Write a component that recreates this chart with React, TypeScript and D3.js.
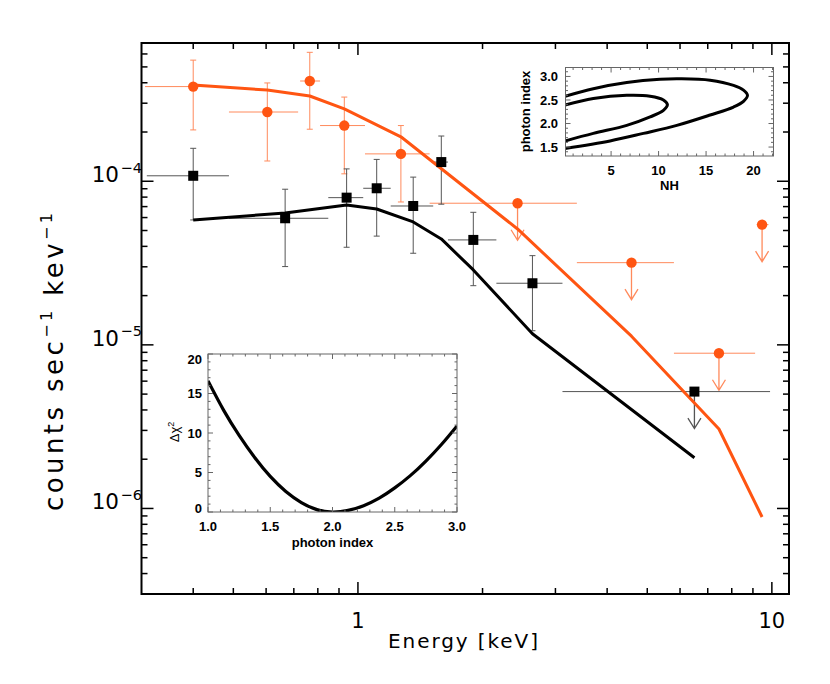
import React from 'react';
import * as d3 from 'd3';

// ---------- main spectrum data ----------
const orangeE = [0.4, 0.604, 0.765, 0.927, 1.27, 2.43, 4.58, 7.45, 9.47];
const orangeRate = [3.79e-4, 2.65e-4, 4.10e-4, 2.19e-4, 1.47e-4, 7.34e-5, 3.18e-5, 8.89e-6, 5.43e-5];
const orangeElo = [0.306, 0.488, 0.725, 0.81, 1.04, 1.49, 3.38, 5.80, 9.19];
const orangeEhi = [0.488, 0.717, 0.81, 1.04, 1.49, 3.38, 5.80, 9.11, 9.81];
const orangeRlo = [2.06e-4, 1.33e-4, 2.08e-4, 1.11e-4, 7.47e-5, null, null, null, null];
const orangeRhi = [5.5e-4, 3.99e-4, 6.14e-4, 3.27e-4, 2.19e-4, null, null, null, null];
const orangeUL = [false, false, false, false, false, true, true, true, true];
const orangeModel = [3.88e-4, 3.61e-4, 3.32e-4, 2.77e-4, 1.87e-4, 5.11e-5, 1.13e-5, 3.06e-6, 8.87e-7];

const blackE = [0.4, 0.667, 0.939, 1.11, 1.36, 1.59, 1.90, 2.64, 6.50];
const blackRate = [1.08e-4, 5.94e-5, 7.94e-5, 9.06e-5, 7.06e-5, 1.31e-4, 4.38e-5, 2.38e-5, 5.18e-6];
const blackElo = [0.309, 0.488, 0.848, 1.03, 1.20, 1.52, 1.65, 2.16, 3.12];
const blackEhi = [0.488, 0.848, 1.03, 1.20, 1.52, 1.65, 2.16, 3.12, 9.90];
const blackRlo = [5.80e-5, 3.01e-5, 3.95e-5, 4.62e-5, 3.63e-5, 7.24e-5, 2.30e-5, 1.22e-5, null];
const blackRhi = [1.59e-4, 8.94e-5, 1.19e-4, 1.36e-4, 1.06e-4, 1.89e-4, 6.46e-5, 3.51e-5, null];
const blackUL = [false, false, false, false, false, false, false, false, true];
const blackModel = [5.80e-5, 6.40e-5, 7.16e-5, 6.77e-5, 5.64e-5, 4.44e-5, 2.87e-5, 1.17e-5, 2.04e-6];

const xMajor = [1, 10];
const xMajorLabels = ['1', '10'];
const yMajor = [1e-6, 1e-5, 1e-4];
const yMajorExp = ['−6', '−5', '−4'];

// ---------- contour inset data (NH, photon index) ----------
const outerNH = [0.15, 3.13, 6.65, 10.16, 12.27, 15.43, 17.89, 18.94, 19.36, 18.94, 17.89, 15.43, 11.92, 8.40, 4.89, 0.15];
const outerGamma = [2.58, 2.74, 2.87, 2.94, 2.95, 2.92, 2.81, 2.71, 2.60, 2.47, 2.35, 2.18, 1.96, 1.79, 1.63, 1.47];
const innerNH = [0.15, 3.13, 6.65, 9.11, 10.51, 10.93, 10.51, 9.11, 6.65, 3.13, 0.15];
const innerGamma = [2.39, 2.53, 2.60, 2.58, 2.50, 2.40, 2.28, 2.14, 1.96, 1.79, 1.63];
const nhTicks = [5, 10, 15, 20];
const gammaTicks = [1.5, 2.0, 2.5, 3.0];

// ---------- delta chi^2 inset data ----------
const chiGamma = [1.0, 1.125, 1.25, 1.375, 1.5, 1.625, 1.75, 1.875, 2.0, 2.125, 2.25, 2.375, 2.5, 2.625, 2.75, 2.875, 3.0];
const chiDelta = [16.6, 12.9, 9.7, 6.9, 4.5, 2.6, 1.2, 0.3, 0.0, 0.2, 0.8, 1.75, 3.05, 4.6, 6.45, 8.55, 10.9];
const chiXTicks = [1.0, 1.5, 2.0, 2.5, 3.0];
const chiYTicks = [0, 5, 10, 15, 20];

const ORANGE = '#ff5512';
const ORANGE_ERR = '#ff8a5c';
const BLACK_ERR = '#555555';

const MAIN = { left: 141.5, right: 789, top: 43, bottom: 594 };
const INS1 = { left: 565.5, right: 773.5, top: 67.5, bottom: 156 };
const INS2 = { left: 208, right: 457, top: 354, bottom: 512 };

const FONT = '"DejaVu Sans", sans-serif';
const IFONT = '"Liberation Sans", Arial, sans-serif';

function range(a: number, b: number, step: number) {
  const out: number[] = [];
  for (let v = a; v <= b + 1e-9; v += step) out.push(+v.toFixed(6));
  return out;
}

export default function App() {
  const x = d3.scaleLog().domain([0.3, 11]).range([MAIN.left, MAIN.right]);
  const y = d3.scaleLog().domain([3e-7, 7e-4]).range([MAIN.bottom, MAIN.top]);

  const xMinor: number[] = [];
  [0.1, 1].forEach((dec) => {
    for (let k = 2; k <= 9; k++) {
      const v = k * dec;
      if (v > 0.3 + 1e-9 && v < 11) xMinor.push(v);
    }
  });
  const yMinor: number[] = [];
  [1e-7, 1e-6, 1e-5, 1e-4].forEach((dec) => {
    for (let k = 2; k <= 9; k++) {
      const v = k * dec;
      if (v > 3e-7 * 1.001 && v < 7e-4 * 0.999) yMinor.push(v);
    }
  });

  const modelLine = (E: number[]) =>
    d3.line<number>().x((_, i) => x(E[i])).y((d) => y(d));

  const nx = d3.scaleLinear().domain([0.2, 22.1]).range([INS1.left, INS1.right]);
  const gy = d3.scaleLinear().domain([1.31, 3.19]).range([INS1.bottom, INS1.top]);
  const outerPts: [number, number][] = outerNH.map((v, i) => [nx(v), gy(outerGamma[i])]);
  const innerPts: [number, number][] = innerNH.map((v, i) => [nx(v), gy(innerGamma[i])]);
  const cl = d3.line().curve(d3.curveCatmullRom.alpha(0.5));

  const cx = d3.scaleLinear().domain([1, 3]).range([INS2.left, INS2.right]);
  const cy = d3.scaleLinear().domain([0, 20]).range([INS2.bottom, INS2.top]);
  const chiLine = d3
    .line<number>()
    .x((_, i) => cx(chiGamma[i]))
    .y((d) => cy(d))
    .curve(d3.curveNatural);

  const renderErr = (
    E: number[], R: number[], Elo: number[], Ehi: number[],
    Rlo: (number | null)[], Rhi: (number | null)[], UL: boolean[], col: string, key: string
  ) =>
    E.map((e, i) => {
      const px = x(e), py = y(R[i]);
      const parts: any[] = [];
      parts.push(
        <line key={`${key}h${i}`} x1={x(Elo[i])} x2={x(Ehi[i])} y1={py} y2={py} stroke={col} strokeWidth={1} />
      );
      if (!UL[i] && Rlo[i] != null && Rhi[i] != null) {
        const y1 = y(Rhi[i] as number), y2 = y(Rlo[i] as number);
        parts.push(<line key={`${key}v${i}`} x1={px} x2={px} y1={y1} y2={y2} stroke={col} strokeWidth={1} />);
        parts.push(<line key={`${key}c1${i}`} x1={px - 3} x2={px + 3} y1={y1} y2={y1} stroke={col} strokeWidth={1} />);
        parts.push(<line key={`${key}c2${i}`} x1={px - 3} x2={px + 3} y1={y2} y2={y2} stroke={col} strokeWidth={1} />);
      }
      if (UL[i]) {
        const tip = py + 37;
        parts.push(
          <path key={`${key}a${i}`}
            d={`M${px},${py}V${tip}M${px - 6.5},${tip - 10.5}L${px},${tip}L${px + 6.5},${tip - 10.5}`}
            fill="none" stroke={col} strokeWidth={1.3} />
        );
      }
      return <g key={`${key}${i}`}>{parts}</g>;
    });

  const chiYMinor = range(0, 20, 1);
  const chiXMinor = range(1, 3, 0.1);
  const nhMinor = range(1, 22, 1);
  const gMinor = range(1.4, 3.1, 0.1);

  const itick = '#666';

  return (
    <svg width={830} height={684} style={{ position: 'absolute', left: 0, top: 0, background: '#fff' }}
      xmlns="http://www.w3.org/2000/svg">
      <rect x={0} y={0} width={830} height={684} fill="#fff" />
      <defs>
        <clipPath id="mainClip">
          <rect x={MAIN.left} y={MAIN.top} width={MAIN.right - MAIN.left} height={MAIN.bottom - MAIN.top} />
        </clipPath>
        <clipPath id="ins1Clip">
          <rect x={INS1.left} y={INS1.top} width={INS1.right - INS1.left} height={INS1.bottom - INS1.top} />
        </clipPath>
        <clipPath id="ins2Clip">
          <rect x={INS2.left} y={INS2.top - 2} width={INS2.right - INS2.left} height={INS2.bottom - INS2.top + 2} />
        </clipPath>
      </defs>

      <g clipPath="url(#mainClip)">
        {renderErr(orangeE, orangeRate, orangeElo, orangeEhi, orangeRlo, orangeRhi, orangeUL, ORANGE_ERR, 'o')}
        {renderErr(blackE, blackRate, blackElo, blackEhi, blackRlo, blackRhi, blackUL, BLACK_ERR, 'b')}
        <path d={modelLine(blackE)(blackModel) || ''} fill="none" stroke="#000" strokeWidth={3} strokeLinejoin="round" />
        <path d={modelLine(orangeE)(orangeModel) || ''} fill="none" stroke={ORANGE} strokeWidth={3} strokeLinejoin="round" />
        {orangeE.map((e, i) => (
          <circle key={`oc${i}`} cx={x(e)} cy={y(orangeRate[i])} r={5.2} fill={ORANGE} />
        ))}
        {blackE.map((e, i) => (
          <rect key={`bs${i}`} x={x(e) - 5} y={y(blackRate[i]) - 5} width={10} height={10} fill="#000" />
        ))}
      </g>

      <rect x={MAIN.left} y={MAIN.top} width={MAIN.right - MAIN.left} height={MAIN.bottom - MAIN.top}
        fill="none" stroke="#000" strokeWidth={2} />
      {xMajor.map((v) => (
        <g key={`xM${v}`}>
          <line x1={x(v)} x2={x(v)} y1={MAIN.bottom} y2={MAIN.bottom - 12} stroke="#000" strokeWidth={1.5} />
          <line x1={x(v)} x2={x(v)} y1={MAIN.top} y2={MAIN.top + 12} stroke="#000" strokeWidth={1.5} />
        </g>
      ))}
      {xMinor.map((v) => (
        <g key={`xm${v}`}>
          <line x1={x(v)} x2={x(v)} y1={MAIN.bottom} y2={MAIN.bottom - 6} stroke="#000" strokeWidth={1.5} />
          <line x1={x(v)} x2={x(v)} y1={MAIN.top} y2={MAIN.top + 6} stroke="#000" strokeWidth={1.5} />
        </g>
      ))}
      {yMajor.map((v) => (
        <g key={`yM${v}`}>
          <line x1={MAIN.left} x2={MAIN.left + 12} y1={y(v)} y2={y(v)} stroke="#000" strokeWidth={1.5} />
          <line x1={MAIN.right} x2={MAIN.right - 12} y1={y(v)} y2={y(v)} stroke="#000" strokeWidth={1.5} />
        </g>
      ))}
      {yMinor.map((v) => (
        <g key={`ym${v}`}>
          <line x1={MAIN.left} x2={MAIN.left + 6} y1={y(v)} y2={y(v)} stroke="#000" strokeWidth={1.5} />
          <line x1={MAIN.right} x2={MAIN.right - 6} y1={y(v)} y2={y(v)} stroke="#000" strokeWidth={1.5} />
        </g>
      ))}
      {xMajor.map((v, i) => (
        <text key={`xl${v}`} x={x(v)} y={627.5} textAnchor="middle" fontFamily={FONT} fontSize={21} fill="#000">
          {xMajorLabels[i]}
        </text>
      ))}
      {yMajor.map((v, i) => (
        <g key={`yl${v}`}>
          <text x={119} y={y(v) + 1} textAnchor="end" fontFamily={FONT} fontSize={21.5} fill="#000">10</text>
          <text x={120.5} y={y(v) - 8.4} textAnchor="start" fontFamily={FONT} fontSize={14.5} fill="#000">
            {yMajorExp[i]}
          </text>
        </g>
      ))}
      <text x={463} y={647.5} textAnchor="middle" fontFamily={FONT} fontSize={20} textLength={150}
        lengthAdjust="spacing" fill="#000">Energy [keV]</text>
      <g transform="translate(63,362) rotate(-90)">
        <text x={0} y={0} textAnchor="middle" fontFamily={FONT} fontSize={26} textLength={298}
          lengthAdjust="spacing" fill="#000">
          counts sec<tspan fontSize={16} dy={-11}>−1</tspan><tspan dy={11}> kev</tspan><tspan fontSize={16} dy={-11}>−1</tspan>
        </text>
      </g>

      {/* inset 1: contours */}
      <rect x={INS1.left} y={INS1.top} width={INS1.right - INS1.left} height={INS1.bottom - INS1.top} fill="#fff" />
      <g clipPath="url(#ins1Clip)">
        <path d={cl(outerPts) || ''} fill="none" stroke="#000" strokeWidth={3} />
        <path d={cl(innerPts) || ''} fill="none" stroke="#000" strokeWidth={3} />
      </g>
      <rect x={INS1.left} y={INS1.top} width={INS1.right - INS1.left} height={INS1.bottom - INS1.top}
        fill="none" stroke={itick} strokeWidth={1} />
      {nhMinor.map((v) => {
        const len = v % 5 === 0 ? 5 : 2.5;
        return (
          <g key={`nh${v}`}>
            <line x1={nx(v)} x2={nx(v)} y1={INS1.bottom} y2={INS1.bottom - len} stroke={itick} strokeWidth={1} />
            <line x1={nx(v)} x2={nx(v)} y1={INS1.top} y2={INS1.top + len} stroke={itick} strokeWidth={1} />
          </g>
        );
      })}
      {gMinor.map((v) => {
        const len = Math.abs((v * 2) - Math.round(v * 2)) < 1e-6 ? 5 : 2.5;
        return (
          <g key={`g${v}`}>
            <line x1={INS1.left} x2={INS1.left + len} y1={gy(v)} y2={gy(v)} stroke={itick} strokeWidth={1} />
            <line x1={INS1.right} x2={INS1.right - len} y1={gy(v)} y2={gy(v)} stroke={itick} strokeWidth={1} />
          </g>
        );
      })}
      {nhTicks.map((v) => (
        <text key={`nhl${v}`} x={nx(v)} y={175} textAnchor="middle" fontFamily={IFONT} fontWeight="bold"
          fontSize={13} fill="#000">{v}</text>
      ))}
      {gammaTicks.map((v) => (
        <text key={`gl${v}`} x={558} y={gy(v) + 4.6} textAnchor="end" fontFamily={IFONT} fontWeight="bold"
          fontSize={13} fill="#000">{v.toFixed(1)}</text>
      ))}
      <text x={669.5} y={190} textAnchor="middle" fontFamily={IFONT} fontWeight="bold" fontSize={13} fill="#000">NH</text>
      <g transform="translate(530,111.5) rotate(-90)">
        <text x={0} y={0} textAnchor="middle" fontFamily={IFONT} fontWeight="bold" fontSize={13} fill="#000">
          photon index
        </text>
      </g>

      {/* inset 2: delta chi^2 */}
      <rect x={INS2.left} y={INS2.top} width={INS2.right - INS2.left} height={INS2.bottom - INS2.top} fill="#fff" />
      <g clipPath="url(#ins2Clip)">
        <path d={chiLine(chiDelta) || ''} fill="none" stroke="#000" strokeWidth={3.2} />
      </g>
      <rect x={INS2.left} y={INS2.top} width={INS2.right - INS2.left} height={INS2.bottom - INS2.top}
        fill="none" stroke={itick} strokeWidth={1} />
      {chiXMinor.map((v) => {
        const len = Math.abs(v * 2 - Math.round(v * 2)) < 1e-6 ? 5 : 2.5;
        return (
          <g key={`cxm${v}`}>
            <line x1={cx(v)} x2={cx(v)} y1={INS2.bottom} y2={INS2.bottom - len} stroke={itick} strokeWidth={1} />
            <line x1={cx(v)} x2={cx(v)} y1={INS2.top} y2={INS2.top + len} stroke={itick} strokeWidth={1} />
          </g>
        );
      })}
      {chiYMinor.map((v) => {
        const len = v % 5 === 0 ? 5 : 2.5;
        return (
          <g key={`cym${v}`}>
            <line x1={INS2.left} x2={INS2.left + len} y1={cy(v)} y2={cy(v)} stroke={itick} strokeWidth={1} />
            <line x1={INS2.right} x2={INS2.right - len} y1={cy(v)} y2={cy(v)} stroke={itick} strokeWidth={1} />
          </g>
        );
      })}
      {chiXTicks.map((v) => (
        <text key={`cxl${v}`} x={cx(v)} y={531} textAnchor="middle" fontFamily={IFONT} fontWeight="bold"
          fontSize={13} fill="#000">{v.toFixed(1)}</text>
      ))}
      {chiYTicks.map((v) => {
        const c = Math.min(Math.max(cy(v), INS2.top + 5), INS2.bottom - 3.5);
        return (
          <text key={`cyl${v}`} x={202} y={c + 4.6} textAnchor="end" fontFamily={IFONT} fontWeight="bold"
            fontSize={13} fill="#000">{v}</text>
        );
      })}
      <text x={332.5} y={547} textAnchor="middle" fontFamily={IFONT} fontWeight="bold" fontSize={13} fill="#000">
        photon index
      </text>
      <g transform="translate(178.5,432) rotate(-90)">
        <text x={0} y={0} textAnchor="middle" fontFamily={IFONT} fontSize={13} fill="#000">
          Δχ<tspan fontSize={9} dy={-5}>2</tspan>
        </text>
      </g>
    </svg>
  );
}
